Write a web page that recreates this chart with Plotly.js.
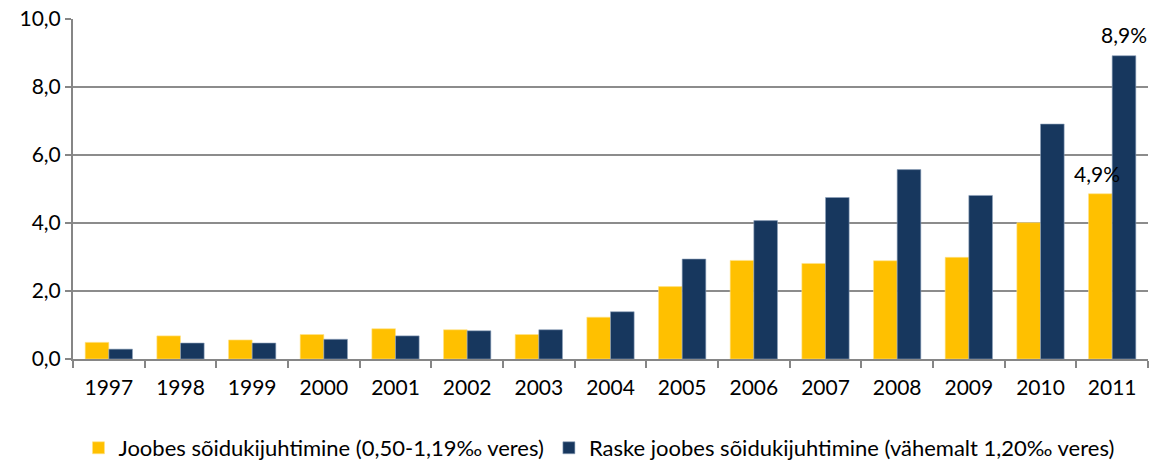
<!DOCTYPE html>
<html>
<head>
<meta charset="utf-8">
<script src="https://cdn.plot.ly/plotly-3.0.1.min.js"></script>
<style>
html,body{margin:0;padding:0;background:#fff;}
#chart{width:1155px;height:464px;}
</style>
</head>
<body>
<div id="chart"></div>
<script>
const years = ['1997','1998','1999','2000','2001','2002','2003','2004','2005','2006','2007','2008','2009','2010','2011'];
const joobes = [0.49,0.68,0.56,0.72,0.89,0.86,0.72,1.23,2.13,2.90,2.81,2.89,2.99,4.01,4.86];
const raske = [0.29,0.47,0.47,0.58,0.68,0.83,0.86,1.39,2.94,4.07,4.75,5.57,4.81,6.91,8.92];
const seriesNames = ['Joobes sõidukijuhtimine (0,50-1,19‰ veres)','Raske joobes sõidukijuhtimine (vähemalt 1,20‰ veres)'];
const yTicks = [0,2,4,6,8,10];
const yTickText = ['0,0','2,0','4,0','6,0','8,0','10,0'];
const lastLabels = ['4,9%','8,9%'];

const fontFam = 'Lato, "Open Sans", sans-serif';
const last = years.length - 1;

const data = [
  {type:'bar', x:years, y:joobes, name:seriesNames[0], marker:{color:'#FFC000', line:{color:'#FFE38A', width:0.6}}, hoverinfo:'none'},
  {type:'bar', x:years, y:raske, name:seriesNames[1], marker:{color:'#17375E', line:{color:'#8FA3BC', width:0.6}}, hoverinfo:'none'}
];

const layout = {
  width:1155, height:464,
  margin:{l:73, r:7, t:19, b:105, autoexpand:false},
  paper_bgcolor:'#fff', plot_bgcolor:'#fff',
  barmode:'group', bargap:0.34, bargroupgap:0,
  font:{family:fontFam, size:21, color:'#000'},
  xaxis:{type:'category', range:[-0.5, years.length-0.5], autorange:false, showgrid:false, showline:true, linecolor:'#868686', linewidth:2,
    ticks:'outside', tickson:'boundaries', ticklen:7, tickcolor:'#868686', tickwidth:2, ticklabelstandoff:9,
    tickfont:{family:fontFam, size:21, color:'#000'}, fixedrange:true, automargin:false},
  yaxis:{range:[0,10], autorange:false, tickvals:yTicks, ticktext:yTickText, showgrid:true, gridcolor:'#8C8C8C', gridwidth:1.5,
    showline:true, linecolor:'#868686', linewidth:2, ticks:'outside', ticklen:6, tickcolor:'#868686', tickwidth:2,
    zeroline:false, tickfont:{family:fontFam, size:21, color:'#000'}, fixedrange:true, automargin:false},
  showlegend:true,
  legend:{orientation:'h', xref:'container', yref:'container', x:0.5186, xanchor:'center', y:0.0345, yanchor:'middle',
    font:{family:fontFam, size:22, color:'#000'}, itemwidth:30, tracegroupgap:0, traceorder:'normal'},
  annotations:[
    {x:last, y:joobes[last], xref:'x', yref:'y', text:lastLabels[0], showarrow:false, yanchor:'bottom', xshift:-15, yshift:6, font:{family:fontFam, size:21, color:'#000'}},
    {x:last, y:raske[last], xref:'x', yref:'y', text:lastLabels[1], showarrow:false, yanchor:'bottom', xshift:12, yshift:7, font:{family:fontFam, size:21, color:'#000'}}
  ]
};

Plotly.newPlot('chart', data, layout, {displayModeBar:false, staticPlot:true});
</script>
</body>
</html>
